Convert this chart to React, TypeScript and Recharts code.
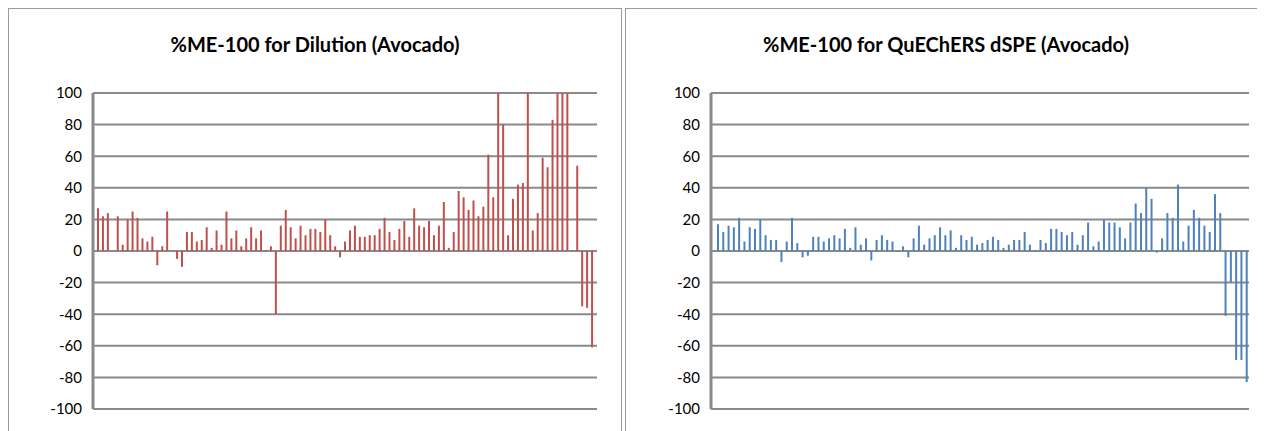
import { Bar, BarChart, CartesianGrid, XAxis, YAxis } from "recharts";

// %ME-100 per analyte (same analyte order)
const dilution = [
  27, 22, 24, 0, 22, 4, 20, 25, 21, 8, 6, 9, -9, 3, 25, 0, -5, -10, 12, 12,
  6, 7, 15, 2, 13, 4, 25, 8, 13, 3, 8, 15, 8, 13, 0.5, 3, -40, 16, 26, 15,
  8, 16, 10, 14, 14, 12, 20, 10, 3, -4, 6, 13, 16, 9, 9, 10, 10, 14, 21, 12,
  7, 14, 19, 9, 27, 16, 15, 19, 10, 16, 31, 2, 12, 38, 34, 26, 32, 22, 28, 61,
  34, 100, 80, 10, 33, 42, 43, 100, 13, 24, 59, 53, 83, 100, 100, 100, 0.5, 54, -35, -36,
  -61,
];

const quechers = [
  17, 12, 16, 15, 21, 6, 15, 14, 20, 10, 7, 7, -7, 6, 21, 5, -4, -3, 9, 9,
  6, 8, 10, 8, 14, 2, 15, 4, 8, -6, 7, 10, 7, 6, -0.5, 3, -4, 8, 16, 4,
  8, 10, 15, 10, 13, 2, 10, 7, 9, 4, 5, 7, 9, 7, 2, 4, 7, 7, 12, 4,
  -0.5, 7, 5, 14, 14, 12, 10, 12, 4, 10, 18, 3, 6, 20, 18, 18, 15, 8, 18, 30,
  24, 40, 33, -1, 8, 24, 21, 42, 6, 16, 26, 21, 16, 12, 36, 24, -41, -20, -69, -69,
  -83,
];

const analytes = dilution.map((_, i) => `#${i + 1}`);

const yTicks = [100, 80, 60, 40, 20, 0, -20, -40, -60, -80, -100];

const gridColor = "#8a8a8a";
const font = "Lato, 'Liberation Sans', sans-serif";

type PanelProps = {
  title: string;
  values: number[];
  color: string;
  left: number;
  width: number;
  axisWidth: number;
  marginRight: number;
  pad: { left: number; right: number };
};

function Panel({ title, values, color, left, width, axisWidth, marginRight, pad }: PanelProps) {
  const data = analytes.map((a, i) => ({ analyte: a, value: values[i] }));
  return (
    <div
      style={{
        position: "absolute",
        left,
        top: 0,
        width,
        height: 440,
        border: "1px solid #9a9a9a",
        background: "#fff",
      }}
    >
      <div
        style={{
          position: "absolute",
          left: 0,
          top: 23,
          width: "100%",
          textAlign: "center",
          fontFamily: font,
          fontWeight: 700,
          fontSize: 20,
          color: "#000",
        }}
      >
        {title}
      </div>
      <BarChart
        width={width}
        height={421}
        data={data}
        margin={{ top: 84, right: marginRight, bottom: 21, left: 0 }}
        style={{ position: "absolute", left: 0, top: 0 }}
      >
        <CartesianGrid vertical={false} stroke={gridColor} strokeWidth={2} />
        <XAxis dataKey="analyte" hide padding={pad} />
        <YAxis
          width={axisWidth}
          domain={[-100, 100]}
          ticks={yTicks}
          interval={0}
          tickLine={false}
          tickMargin={5}
          axisLine={{ stroke: gridColor, strokeWidth: 3 }}
          tick={{ fill: "#000", fontSize: 15, fontFamily: font }}
        />
        <Bar dataKey="value" fill={color} barSize={2} isAnimationActive={false} />
      </BarChart>
    </div>
  );
}

export default function App() {
  return (
    <div style={{ position: "relative", width: 1257, height: 423, overflow: "hidden" }}>
      <Panel
        title="%ME-100 for Dilution (Avocado)"
        values={dilution}
        color="#C0504D"
        left={0}
        width={612}
        axisWidth={84}
        marginRight={24}
        pad={{ left: 3, right: 2 }}
      />
      <Panel
        title="%ME-100 for QuEChERS dSPE (Avocado)"
        values={quechers}
        color="#4F81BD"
        left={617}
        width={640}
        axisWidth={85}
        marginRight={17}
        pad={{ left: 4, right: 0 }}
      />
    </div>
  );
}
